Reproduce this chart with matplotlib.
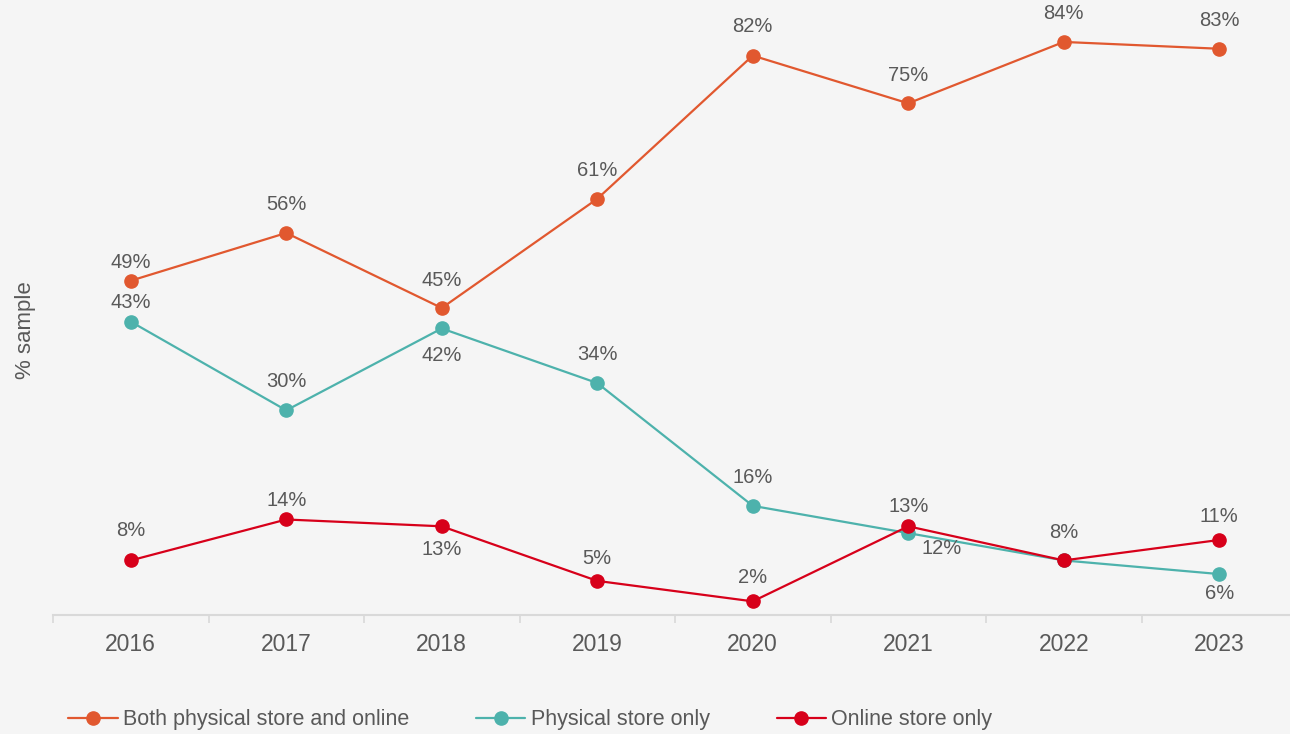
import matplotlib
matplotlib.use('Agg')
import matplotlib.pyplot as plt
import numpy as np

years = ['2016', '2017', '2018', '2019', '2020', '2021', '2022', '2023']
both = [49, 56, 45, 61, 82, 75, 84, 83]
physical = [43, 30, 42, 34, 16, 12, 8, 6]
online = [8, 14, 13, 5, 2, 13, 8, 11]

series_names = ['Both physical store and online', 'Physical store only',
                'Online store only']

# label offsets in pixels (dx, dy); None = no label
both_offsets = [(0, 18), (0, 28), (0, 28), (0, 28), (0, 29), (0, 28), (0, 28), (0, 28)]
physical_offsets = [(0, 19), (0, 29), (0, -27), (0, 29), (0, 28), (33, -15), None, (0, -19)]
online_offsets = [(0, 30), (0, 19), (0, -23), (0, 22), (0, 24), (0, 20), (0, 28), (0, 23)]

colors = ['#E1582F', '#4DB2AC', '#D7001A']
text_color = '#595959'
bg = '#F5F5F5'

plt.rcParams['font.family'] = ['Liberation Sans', 'DejaVu Sans']

fig = plt.figure(figsize=(12.9, 7.34), dpi=100, facecolor=bg)
ax = fig.add_axes([53 / 1290, 1 - 615 / 734, 1244 / 1290, 614 / 734])
ax.set_facecolor(bg)

x = np.arange(len(years))
lines = []
for vals, offs, col, name in zip([both, physical, online],
                                 [both_offsets, physical_offsets, online_offsets],
                                 colors, series_names):
    li, = ax.plot(x, vals, color=col, lw=1.6, marker='o', markersize=9.5,
                  label=name, solid_capstyle='round')
    lines.append(li)
    for xi, v, off in zip(x, vals, offs):
        if off is None:
            continue
        ax.annotate(f'{v}%', (xi, v), xytext=off, textcoords='offset pixels',
                    ha='center', va='center', fontsize=14.5, color=text_color)

ax.set_xlim(-0.5, len(years) - 0.5)
ax.set_ylim(0, 90)

for side in ['top', 'right', 'left']:
    ax.spines[side].set_visible(False)
ax.spines['bottom'].set_color('#D9D9D9')
ax.spines['bottom'].set_linewidth(1.5)

ax.set_yticks([])
ax.set_xticks(x)
ax.set_xticklabels(years, fontsize=16.5, color=text_color)
ax.tick_params(axis='x', which='major', length=0, pad=13)
ax.set_xticks(np.arange(-0.5, len(years)), minor=True)
ax.tick_params(axis='x', which='minor', length=6, width=1.2, color='#D9D9D9',
               direction='out')

fig.text(25 / 1290, 1 - 330 / 734, '% sample', rotation=90, ha='center',
         va='center', fontsize=16, color=text_color)

leg = fig.legend(handles=lines, loc='center left',
                 bbox_to_anchor=(68 / 1290, 1 - 720 / 734), ncol=3,
                 frameon=False, fontsize=15.5, handlelength=2.3,
                 handletextpad=0.25, columnspacing=3.1, borderpad=0,
                 borderaxespad=0)
for t in leg.get_texts():
    t.set_color(text_color)

fig.savefig('out.png', dpi=100, facecolor=bg)
